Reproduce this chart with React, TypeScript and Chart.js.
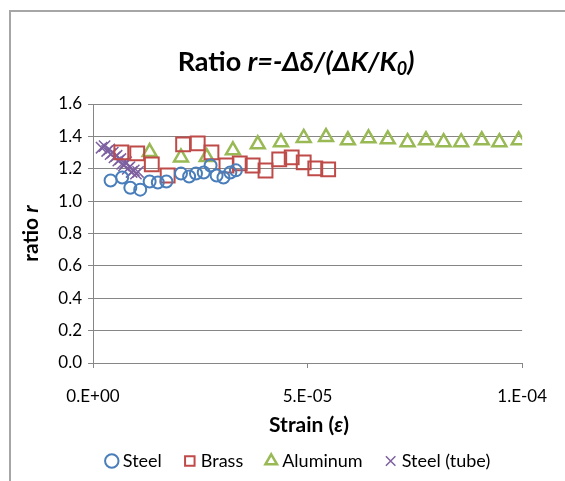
import { useEffect, useRef } from "react";
import { Chart, registerables } from "chart.js";

Chart.register(...registerables);

const FONT = "Lato, 'Noto Sans', 'DejaVu Sans', sans-serif";

const seriesNames = ["Steel", "Brass", "Aluminum", "Steel (tube)"];

const steelX = [4.1e-6, 6.8e-6, 8.7e-6, 11.0e-6, 13.2e-6, 15.1e-6, 17.1e-6, 20.5e-6, 22.4e-6, 24.0e-6, 25.8e-6, 27.4e-6, 28.8e-6, 30.4e-6, 32.0e-6, 33.3e-6];
const steelY = [1.127, 1.146, 1.083, 1.071, 1.121, 1.115, 1.121, 1.171, 1.152, 1.171, 1.177, 1.22, 1.158, 1.146, 1.177, 1.19];

const brassX = [6.6e-6, 10.3e-6, 13.7e-6, 17.4e-6, 21.0e-6, 24.4e-6, 27.6e-6, 31.1e-6, 34.2e-6, 37.2e-6, 40.2e-6, 43.4e-6, 46.3e-6, 49.1e-6, 51.8e-6, 54.8e-6];
const brassY = [1.301, 1.295, 1.227, 1.158, 1.351, 1.357, 1.301, 1.22, 1.233, 1.22, 1.189, 1.258, 1.27, 1.239, 1.202, 1.196];

const aluminumX = [13.2e-6, 20.5e-6, 26.5e-6, 32.6e-6, 38.4e-6, 43.8e-6, 49.1e-6, 54.3e-6, 59.4e-6, 64.2e-6, 68.7e-6, 73.3e-6, 77.6e-6, 81.7e-6, 85.8e-6, 90.6e-6, 94.7e-6, 99.2e-6];
const aluminumY = [1.303, 1.27, 1.272, 1.314, 1.351, 1.364, 1.39, 1.396, 1.376, 1.388, 1.382, 1.364, 1.376, 1.364, 1.364, 1.376, 1.364, 1.376];

const tubeX = [2.0e-6, 2.7e-6, 3.3e-6, 3.8e-6, 4.1e-6, 4.6e-6, 5.0e-6, 5.5e-6, 5.9e-6, 6.4e-6, 6.8e-6, 7.2e-6, 7.7e-6, 8.1e-6, 8.5e-6, 9.0e-6, 9.5e-6, 10.0e-6, 10.5e-6];
const tubeY = [1.33, 1.34, 1.31, 1.32, 1.29, 1.3, 1.27, 1.28, 1.25, 1.26, 1.23, 1.22, 1.24, 1.2, 1.21, 1.18, 1.19, 1.17, 1.18];

const xTickValues = [0, 5e-5, 1e-4];
const xTickLabels = ["0.E+00", "5.E-05", "1.E-04"];
const yTickLabels = ["0.0", "0.2", "0.4", "0.6", "0.8", "1.0", "1.2", "1.4", "1.6"];

const colors = ["#4a7ebb", "#be4b48", "#98b954", "#7d60a0"];

type Seg = { t: string; font: string; dy?: number };

function drawSegs(ctx: CanvasRenderingContext2D, segs: Seg[], cx: number, cy: number) {
  let total = 0;
  const widths = segs.map((s) => {
    ctx.font = s.font;
    const w = ctx.measureText(s.t).width;
    total += w;
    return w;
  });
  let x = cx - total / 2;
  ctx.textBaseline = "middle";
  ctx.textAlign = "left";
  segs.forEach((s, i) => {
    ctx.font = s.font;
    ctx.fillText(s.t, x, cy + (s.dy || 0));
    x += widths[i];
  });
}

const decor = {
  id: "decor",
  beforeDraw(chart: any) {
    const ctx = chart.ctx as CanvasRenderingContext2D;
    if (chart.legend) {
      chart.legend.left = 70;
      chart.legend.right = 530;
    }
    ctx.save();
    ctx.fillStyle = "#ffffff";
    ctx.fillRect(0, 0, chart.width, chart.height);
    ctx.fillStyle = "#a6a6a6";
    ctx.fillRect(9, 10, 2, chart.height - 10);
    ctx.fillRect(9, 10, chart.width - 9, 2);
    ctx.restore();
  },
  afterDraw(chart: any) {
    const ctx = chart.ctx as CanvasRenderingContext2D;
    const area = chart.chartArea;
    ctx.save();
    ctx.fillStyle = "#000000";
    drawSegs(
      ctx,
      [
        { t: "Ratio ", font: `bold 27px ${FONT}` },
        { t: "r=-Δδ/(ΔK/K", font: `italic bold 27px ${FONT}` },
        { t: "0", font: `italic bold 18px ${FONT}`, dy: 7 },
        { t: ")", font: `italic bold 27px ${FONT}` },
      ],
      296,
      62
    );
    drawSegs(
      ctx,
      [
        { t: "Strain (", font: `bold 21px ${FONT}` },
        { t: "ε", font: `italic bold 21px ${FONT}` },
        { t: ")", font: `bold 21px ${FONT}` },
      ],
      309,
      425
    );
    ctx.translate(31, (area.top + area.bottom) / 2);
    ctx.rotate(-Math.PI / 2);
    drawSegs(
      ctx,
      [
        { t: "ratio ", font: `bold 21px ${FONT}` },
        { t: "r", font: `italic bold 21px ${FONT}` },
      ],
      0,
      0
    );
    ctx.restore();
  },
};

export default function App() {
  const ref = useRef<HTMLCanvasElement>(null);
  useEffect(() => {
    const pts = (xs: number[], ys: number[]) => xs.map((x, i) => ({ x, y: ys[i] }));
    const common = { backgroundColor: "rgba(0,0,0,0)", showLine: false };
    const chart = new Chart(ref.current!, {
      type: "scatter",
      data: {
        datasets: [
          { ...common, label: seriesNames[0], data: pts(steelX, steelY), pointStyle: "circle", pointRadius: 6, pointBorderWidth: 2, borderColor: colors[0], pointBorderColor: colors[0] },
          { ...common, label: seriesNames[1], data: pts(brassX, brassY), pointStyle: "rect", pointRadius: 9.8, pointBorderWidth: 2, borderColor: colors[1], pointBorderColor: colors[1] },
          { ...common, label: seriesNames[2], data: pts(aluminumX, aluminumY), pointStyle: "triangle", pointRadius: 8, pointBorderWidth: 2.5, borderColor: colors[2], pointBorderColor: colors[2] },
          { ...common, label: seriesNames[3], data: pts(tubeX, tubeY), pointStyle: "crossRot", pointRadius: 8, pointBorderWidth: 1.5, borderColor: colors[3], pointBorderColor: colors[3] },
        ],
      } as any,
      options: {
        responsive: false,
        animation: false,
        layout: { padding: { left: 0, right: 35, top: 104, bottom: 1 } },
        scales: {
          x: {
            type: "linear",
            min: 0,
            max: 1e-4,
            afterBuildTicks: (s: any) => {
              s.ticks = xTickValues.map((v) => ({ value: v }));
            },
            afterFit: (s: any) => {
              s.height = 63;
            },
            grid: { drawOnChartArea: false, drawTicks: true, tickLength: 5, color: "#868686" },
            border: { color: "#868686" },
            ticks: {
              padding: 18,
              color: "#000",
              font: { family: FONT, size: 17 },
              maxRotation: 0,
              autoSkip: false,
              callback: (_v: any, i: number) => xTickLabels[i],
            },
          },
          y: {
            min: 0,
            max: 1.6,
            afterFit: (s: any) => {
              s.width = 93;
            },
            grid: { color: "#868686", tickLength: 5 },
            border: { color: "#868686" },
            ticks: {
              stepSize: 0.2,
              padding: 6,
              color: "#000",
              font: { family: FONT, size: 17 },
              callback: (_v: any, i: number) => yTickLabels[i],
            },
          },
        },
        plugins: {
          legend: {
            position: "bottom",
            labels: {
              usePointStyle: true,
              boxWidth: 4,
              boxHeight: 9.5,
              padding: 26,
              color: "#000",
              font: { family: FONT, size: 18 },
            },
          },
          title: { display: false },
          tooltip: { enabled: false },
        },
      } as any,
      plugins: [decor],
    });
    return () => chart.destroy();
  }, []);
  return (
    <div style={{ position: "fixed", left: 0, top: 0, width: 565, height: 481 }}>
      <canvas ref={ref} width={565} height={481} style={{ width: 565, height: 481 }} />
    </div>
  );
}
